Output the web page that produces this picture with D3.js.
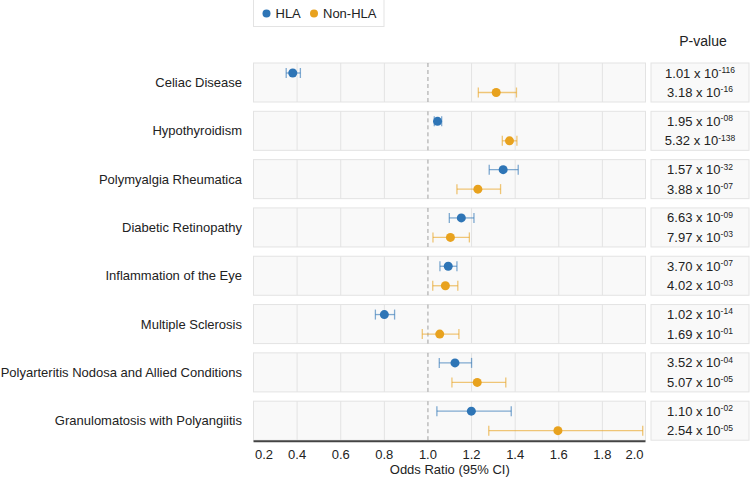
<!DOCTYPE html>
<html><head><meta charset="utf-8">
<script src="https://cdn.jsdelivr.net/npm/d3@7"></script>
<style>body{margin:0;background:#fff;font-family:"Liberation Sans",Arial,sans-serif;}</style>
</head><body>
<svg id="c" width="750" height="480"></svg>
<script>
const categories = ["Celiac Disease","Hypothyroidism","Polymyalgia Rheumatica","Diabetic Retinopathy","Inflammation of the Eye","Multiple Sclerosis","Polyarteritis Nodosa and Allied Conditions","Granulomatosis with Polyangiitis"];
const series = ["HLA","Non-HLA"];
const hlaOR   = [0.38, 1.044, 1.345, 1.153, 1.093, 0.800, 1.124, 1.199];
const hlaLo   = [0.35, 1.029, 1.281, 1.098, 1.055, 0.759, 1.052, 1.041];
const hlaHi   = [0.415,1.063, 1.414, 1.211, 1.133, 0.847, 1.200, 1.382];
const nonOR   = [1.313,1.374, 1.229, 1.103, 1.080, 1.054, 1.226, 1.596];
const nonLo   = [1.231,1.341, 1.133, 1.023, 1.022, 0.974, 1.110, 1.279];
const nonHi   = [1.406,1.408, 1.333, 1.190, 1.137, 1.142, 1.357, 1.985];
const hlaP = [["1.01","-116"],["1.95","-08"],["1.57","-32"],["6.63","-09"],["3.70","-07"],["1.02","-14"],["3.52","-04"],["1.10","-02"]];
const nonP = [["3.18","-16"],["5.32","-138"],["3.88","-07"],["7.97","-03"],["4.02","-03"],["1.69","-01"],["5.07","-05"],["2.54","-05"]];
const xTicks = [0.2,0.4,0.6,0.8,1.0,1.2,1.4,1.6,1.8,2.0];
const colors = {"HLA":"#2e75b6","Non-HLA":"#e8a21e"};

const svg = d3.select("#c");
const x = d3.scaleLinear().domain([0.2,2.0]).range([253.5,646]);
const band = d3.scaleBand().domain(categories).range([63,440.2]).paddingInner(0.1925).paddingOuter(0);
const panelL = 253.5, panelR = 645.5;
const rowY = d3.scalePoint().domain(series).range([10,29.5]);

categories.forEach((cat,i)=>{
  const top = band(cat), h = band.bandwidth();
  const g = svg.append("g");
  g.append("rect").attr("x",panelL).attr("y",top).attr("width",panelR-panelL).attr("height",h)
    .attr("fill","#f9f9f9").attr("stroke","#e3e3e3").attr("stroke-width",1);
  xTicks.slice(1,-1).forEach(t=>{
    if (t===1.0) return;
    g.append("line").attr("x1",x(t)).attr("x2",x(t)).attr("y1",top).attr("y2",top+h)
      .attr("stroke","#e3e3e3").attr("stroke-width",1);
  });
  g.append("line").attr("x1",x(1)).attr("x2",x(1)).attr("y1",top).attr("y2",top+h)
    .attr("stroke","#a0a0a0").attr("stroke-width",1).attr("stroke-dasharray","4,3");
  g.append("text").attr("x",242).attr("y",top+h/2).attr("dy","0.35em").attr("text-anchor","end")
    .attr("font-size",13).attr("fill","#222").text(cat);
  const data = [
    {s:"HLA",or:hlaOR[i],lo:hlaLo[i],hi:hlaHi[i],p:hlaP[i]},
    {s:"Non-HLA",or:nonOR[i],lo:nonLo[i],hi:nonHi[i],p:nonP[i]}
  ];
  data.forEach(d=>{
    const y = top + rowY(d.s), c = colors[d.s];
    g.append("line").attr("x1",x(d.lo)).attr("x2",x(d.hi)).attr("y1",y).attr("y2",y)
      .attr("stroke",c).attr("stroke-opacity",0.6).attr("stroke-width",1.3);
    [d.lo,d.hi].forEach(v=>g.append("line").attr("x1",x(v)).attr("x2",x(v)).attr("y1",y-5).attr("y2",y+5)
      .attr("stroke",c).attr("stroke-opacity",0.6).attr("stroke-width",1.3));
    g.append("circle").attr("cx",x(d.or)).attr("cy",y).attr("r",4.5).attr("fill",c);
  });
  g.append("rect").attr("x",651).attr("y",top).attr("width",98).attr("height",h)
    .attr("fill","#f9f9f9").attr("stroke","#e3e3e3");
  data.forEach(d=>{
    const y = top + rowY(d.s);
    const t = g.append("text").attr("x",700).attr("y",y).attr("dy","0.35em").attr("text-anchor","middle")
      .attr("font-size",13).attr("fill","#222");
    t.append("tspan").text(d.p[0]+" x 10");
    t.append("tspan").attr("font-size",8.5).attr("dy","-0.55em").text(d.p[1]);
  });
});

const bottom = band(categories[categories.length-1]) + band.bandwidth();
svg.append("line").attr("x1",panelL).attr("x2",panelR).attr("y1",bottom+1).attr("y2",bottom+1)
  .attr("stroke","#444").attr("stroke-width",2);
xTicks.forEach((t,i)=>{
  let anchor="middle", xx=x(t);
  if(i===0){anchor="start"; xx=panelL+1.5;}
  if(i===xTicks.length-1){anchor="end"; xx=panelR-2;}
  svg.append("text").attr("x",xx).attr("y",bottom+14.5).attr("dy","0.35em").attr("text-anchor",anchor)
    .attr("font-size",13).attr("fill","#222").text(t.toFixed(1));
});
svg.append("text").attr("x",x(1.1)).attr("y",bottom+29.5).attr("dy","0.35em").attr("text-anchor","middle")
  .attr("font-size",13).attr("fill","#222").text("Odds Ratio (95% CI)");

svg.append("text").attr("x",703).attr("y",46).attr("text-anchor","middle").attr("font-size",14).attr("fill","#222").text("P-value");

const lg = svg.append("g");
lg.append("rect").attr("x",253.5).attr("y",-1).attr("width",130.5).attr("height",27.5)
  .attr("fill","#fff").attr("stroke","#e3e3e3");
const lx = [266.5, 314];
series.forEach((s,i)=>{
  lg.append("circle").attr("cx",lx[i]).attr("cy",13.5).attr("r",4).attr("fill",colors[s]);
  lg.append("text").attr("x",lx[i]+9).attr("y",13.5).attr("dy","0.35em").attr("font-size",13).attr("fill","#222").text(s);
});
</script>
</body></html>
